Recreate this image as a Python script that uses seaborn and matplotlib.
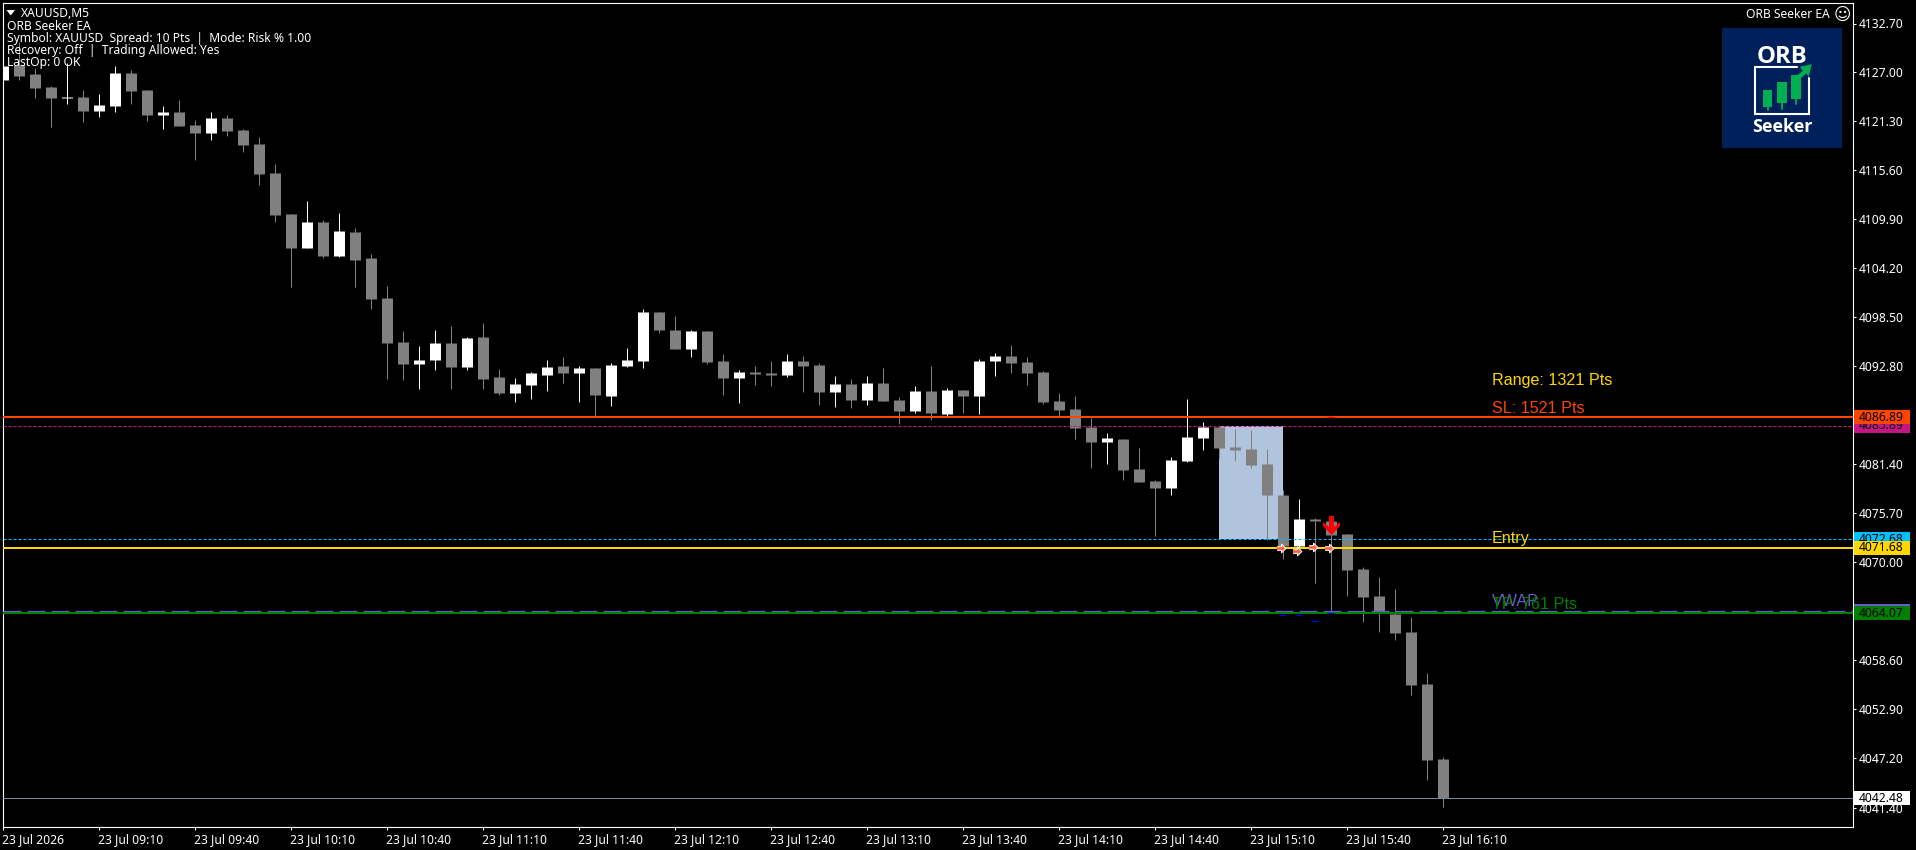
import pandas as pd
import matplotlib
matplotlib.use('Agg')
import matplotlib.pyplot as plt
import matplotlib.transforms as mtrans
from matplotlib.patches import Rectangle, Polygon
import seaborn as sns

W, H = 1916, 850

# candles, one value per 5 minute bar
opens = [4126.13, 4127.87, 4126.83, 4125.31, 4124.03, 4124.15, 4122.52, 4123.10, 4126.94, 4124.96,
         4122.05, 4122.40, 4120.89, 4119.96, 4121.70, 4120.31, 4118.68, 4115.30, 4110.53, 4106.57,
         4109.60, 4105.64, 4108.44, 4105.40, 4100.74, 4095.62, 4093.06, 4093.53, 4095.51, 4092.71,
         4096.20, 4091.55, 4089.69, 4090.62, 4091.78, 4092.83, 4092.01, 4092.60, 4089.33, 4092.83,
         4093.41, 4099.11, 4097.02, 4094.81, 4096.90, 4093.41, 4091.43, 4092.13, 4092.01, 4091.78,
         4093.41, 4092.94, 4089.80, 4090.73, 4088.87, 4090.85, 4088.87, 4087.59, 4089.92, 4087.24,
         4090.03, 4089.34, 4093.41, 4093.99, 4093.29, 4092.13, 4088.75, 4087.82, 4085.73, 4083.98,
         4084.33, 4080.84, 4079.44, 4078.63, 4081.77, 4084.45, 4085.73, 4083.40, 4083.17, 4081.42,
         4077.81, 4071.88, 4075.02, 4074.79, 4073.27, 4069.20, 4066.06, 4064.00, 4061.86, 4055.81,
         4047.08]
highs = [4129.20, 4130.59, 4127.49, 4125.43, 4128.07, 4124.96, 4124.50, 4127.76, 4127.29, 4124.96,
         4123.10, 4123.80, 4121.47, 4122.40, 4122.05, 4120.42, 4119.49, 4116.35, 4110.53, 4112.04,
         4109.83, 4110.65, 4108.90, 4105.86, 4102.14, 4096.90, 4095.16, 4097.02, 4097.48, 4096.20,
         4097.83, 4092.48, 4091.43, 4092.13, 4093.53, 4093.88, 4092.83, 4092.60, 4093.18, 4094.92,
         4099.46, 4099.11, 4098.65, 4097.02, 4096.90, 4094.22, 4092.36, 4092.83, 4093.41, 4094.22,
         4093.99, 4093.18, 4091.66, 4091.31, 4091.66, 4092.59, 4089.22, 4090.50, 4092.83, 4090.27,
         4090.03, 4093.64, 4094.34, 4095.27, 4093.88, 4092.25, 4089.69, 4089.34, 4086.78, 4085.03,
         4084.33, 4083.28, 4079.56, 4082.24, 4088.99, 4086.31, 4085.96, 4085.50, 4085.38, 4083.17,
         4078.40, 4077.35, 4075.14, 4075.00, 4073.27, 4069.43, 4068.27, 4066.87, 4063.60, 4057.09,
         4047.31]
lows = [4124.65, 4126.13, 4124.03, 4120.66, 4123.33, 4121.24, 4121.82, 4122.40, 4123.33, 4121.36,
        4120.42, 4120.77, 4116.82, 4119.14, 4119.61, 4117.75, 4113.91, 4109.60, 4102.03, 4106.57,
        4105.41, 4105.53, 4102.03, 4099.46, 4091.31, 4091.20, 4090.15, 4092.36, 4090.15, 4092.36,
        4090.15, 4089.45, 4088.64, 4088.99, 4089.92, 4090.85, 4088.64, 4086.90, 4088.17, 4092.71,
        4092.59, 4096.67, 4094.81, 4093.88, 4093.06, 4089.45, 4088.52, 4090.62, 4090.50, 4091.55,
        4089.80, 4088.29, 4088.06, 4087.94, 4088.29, 4088.75, 4086.08, 4087.36, 4086.54, 4087.01,
        4087.36, 4087.24, 4091.66, 4092.01, 4090.62, 4088.40, 4086.89, 4084.33, 4080.95, 4081.42,
        4079.56, 4079.33, 4073.04, 4077.81, 4081.66, 4083.05, 4082.12, 4081.77, 4080.96, 4072.58,
        4070.36, 4071.70, 4067.57, 4064.04, 4066.06, 4063.03, 4061.87, 4060.93, 4054.53, 4044.63,
        4041.49]
closes = [4127.80, 4126.59, 4125.20, 4124.03, 4124.15, 4122.52, 4123.22, 4126.94, 4124.85, 4122.05,
          4122.40, 4120.77, 4119.96, 4121.70, 4120.19, 4118.56, 4115.19, 4110.41, 4106.57, 4109.60,
          4105.64, 4108.55, 4105.18, 4100.63, 4095.51, 4093.06, 4093.53, 4095.51, 4092.71, 4096.09,
          4091.31, 4089.69, 4090.73, 4092.01, 4092.71, 4092.01, 4092.60, 4089.45, 4092.94, 4093.53,
          4099.11, 4097.02, 4094.81, 4096.90, 4093.29, 4091.43, 4092.13, 4091.90, 4091.78, 4093.41,
          4092.83, 4089.80, 4090.73, 4088.87, 4090.85, 4088.75, 4087.59, 4089.92, 4087.36, 4090.03,
          4089.34, 4093.41, 4093.99, 4093.18, 4092.01, 4088.64, 4087.71, 4085.61, 4083.98, 4084.45,
          4080.72, 4079.33, 4078.63, 4081.89, 4084.57, 4085.73, 4083.28, 4083.05, 4081.31, 4077.81,
          4071.88, 4075.02, 4074.79, 4073.16, 4069.08, 4065.94, 4064.11, 4061.74, 4055.69, 4046.96,
          4042.50]

price_ticks = [4132.70, 4127.00, 4121.30, 4115.60, 4109.90, 4104.20, 4098.50, 4092.80, 4087.10,
               4081.40, 4075.70, 4070.00, 4064.30, 4058.60, 4052.90, 4047.20, 4041.40]
time_labels = ['23 Jul 2026', '23 Jul 09:10', '23 Jul 09:40', '23 Jul 10:10', '23 Jul 10:40', '23 Jul 11:10',
               '23 Jul 11:40', '23 Jul 12:10', '23 Jul 12:40', '23 Jul 13:10', '23 Jul 13:40', '23 Jul 14:10',
               '23 Jul 14:40', '23 Jul 15:10', '23 Jul 15:40', '23 Jul 16:10']

sl_level = 4086.89
sl_pending = 4085.89
entry_pending = 4072.68
entry_level = 4071.68
vwap_level = 4064.30
tp_level = 4064.07
last_price = 4042.48

# opening range box
range_bars = [76, 80]
range_prices = [4072.68, 4085.89]

trade_bars = [80, 81, 82, 83]
trade_prices = [4071.60, 4071.30, 4071.70, 4071.60]
blue_marks = [4063.81, 4063.81, 4063.11, 4064.04]
sell_bar = 83
sell_price = 4074.27

header = ['ORB Seeker EA',
          'Symbol: XAUUSD  Spread: 10 Pts  |  Mode: Risk % 1.00',
          'Recovery: Off  |  Trading Allowed: Yes',
          'LastOp: 0 OK']

sns.set_theme(style='dark', rc={'figure.facecolor': 'black', 'axes.facecolor': 'black',
                                'axes.edgecolor': 'white', 'savefig.facecolor': 'black'})
plt.rcParams['font.family'] = ['Noto Sans', 'DejaVu Sans']
FS = 8.7
X0 = 2.5  # px position of bar 0


def px(x, y):
    return x / W, 1 - y / H


df = pd.DataFrame({'bar': range(len(opens)), 'open': opens, 'high': highs, 'low': lows, 'close': closes})
df['kind'] = ['up' if c >= o else 'down' for o, c in zip(opens, closes)]
colours = {'up': 'white', 'down': '#808080'}
wicks = df.melt(id_vars=['bar', 'kind'], value_vars=['low', 'high'], value_name='price')
bodies = df.melt(id_vars=['bar', 'kind'], value_vars=['open', 'close'], value_name='price')

fig = plt.figure(figsize=(W / 100, H / 100), dpi=100)
left, right, top, bottom = 2.5, 1852.5, 2.5, 826.5
ax = fig.add_axes([left / W, 1 - bottom / H, (right - left) / W, (bottom - top) / H])

# 16 px per bar, 8.59 px per price unit
ax.set_xlim((left - X0) / 16, (right - X0) / 16)
ax.set_ylim(4132.70 - (bottom - 23.5) / 8.59, 4132.70 + (23.5 - top) / 8.59)

ax.add_patch(Rectangle((range_bars[0], range_prices[0]), range_bars[1] - range_bars[0],
                       range_prices[1] - range_prices[0], color='#B0C4DE', lw=0, zorder=2.7))

sns.lineplot(data=wicks, x='bar', y='price', hue='kind', units='bar', estimator=None, sort=False,
             palette=colours, lw=0.72, ax=ax, legend=False, zorder=3, solid_capstyle='butt')
sns.lineplot(data=bodies, x='bar', y='price', hue='kind', units='bar', estimator=None, sort=False,
             palette=colours, lw=7.92, ax=ax, legend=False, zorder=3.1, solid_capstyle='butt')

ax.axhline(sl_pending, color='#C71585', lw=0.72, ls=(0, (3, 2)), zorder=4)
ax.axhline(sl_level, color='#FF4500', lw=1.44, zorder=4.1)
ax.axhline(entry_pending, color='#00BFFF', lw=0.72, ls=(0, (3, 2)), zorder=4)
ax.axhline(entry_level, color='#FFD700', lw=1.44, zorder=4.1)
ax.axhline(vwap_level, color='#6A5ACD', lw=0.9, ls=(0, (14.4, 4.8)), zorder=4)
ax.axhline(tp_level, color='#008000', lw=1.44, zorder=4.1)
ax.axhline(last_price, color='#778899', lw=0.72, zorder=4)

for b, p in zip(trade_bars, blue_marks):
    ax.hlines(p, b - 0.22, b + 0.22, color='#0000FF', lw=0.9, zorder=4.2)
ax.hlines(sl_level + 0.04, sell_bar - 0.22, sell_bar + 0.22, color='#FF0000', lw=0.9, zorder=4.2)

right_arrow = [(-1, -0.42), (0, -0.42), (0, -1), (1, 0), (0, 1), (0, 0.42), (-1, 0.42)]
sns.scatterplot(x=[b - 0.1 for b in trade_bars], y=trade_prices, marker=right_arrow, s=40, color='#FF6347',
                edgecolor='white', linewidth=0.7, ax=ax, zorder=5, legend=False)
down_arrow = [(-0.26, 1), (0.26, 1), (0.26, -0.15), (0.89, 0.35), (0.89, -0.05), (0, -1),
              (-0.89, -0.05), (-0.89, 0.35), (-0.26, -0.15)]
sns.scatterplot(x=[sell_bar], y=[sell_price], marker=down_arrow, s=187, color='#FF0000',
                linewidth=0, ax=ax, zorder=5.1, legend=False)

# axes and ticks
for s in ax.spines.values():
    s.set_color('white')
    s.set_linewidth(0.8)
ax.yaxis.tick_right()
ax.set_yticks(price_ticks)
ax.set_yticklabels(['%.2f' % v for v in price_ticks])
ax.set_xticks([i * 6 for i in range(len(time_labels))])
ax.set_xticklabels(time_labels, ha='left')
ax.tick_params(axis='y', colors='white', length=2.2, width=0.72, pad=2.6, labelsize=FS, right=True)
ax.tick_params(axis='x', colors='white', length=2.2, width=0.72, pad=2.6, labelsize=FS, bottom=True)
ax.grid(False)
ax.set_xlabel('')
ax.set_ylabel('')

# price tags on the scale
tag_trans = mtrans.blended_transform_factory(fig.transFigure, ax.transData)
tags = [(sl_pending, '#C71585', 4.5), (sl_level, '#FF4500', 4.6), (entry_pending, '#00BFFF', 4.5),
        (entry_level, '#FFD700', 4.6), (vwap_level, '#6A5ACD', 4.5), (tp_level, '#008000', 4.6),
        (last_price, 'white', 4.5)]
tag_h = 14 / 8.59
for p, col, z in tags:
    ax.add_patch(Rectangle((1854 / W, p - tag_h / 2), 56 / W, tag_h, transform=tag_trans, color=col, lw=0,
                           clip_on=False, zorder=z))
    ax.text(1859 / W, p, '%.2f' % p, transform=tag_trans, color='black', fontsize=FS, va='center',
            clip_on=False, zorder=z + 0.01)

# header block, drawn over the candles
fig.text(*px(21, 17), 'XAUUSD,M5', color='white', fontsize=FS, va='baseline', zorder=10)
fig.add_artist(Polygon([px(6.5, 10), px(15, 10), px(10.7, 15.5)], closed=True, color='white', lw=0,
                       transform=fig.transFigure))
for i, line in enumerate(header):
    fig.text(*px(7, 30 + 12 * i), line, color='white', fontsize=FS, va='baseline', zorder=10)

fig.text(*px(1746, 18), 'ORB Seeker EA', color='white', fontsize=FS, va='baseline', zorder=10)
fig.text(*px(1834, 19.5), '\u263a', color='white', fontsize=12, va='baseline', family='DejaVu Sans', zorder=10)

# level captions
FS2 = 11.6
fig.text(*px(1492, 385), 'Range: 1321 Pts', color='#FFD700', fontsize=FS2, family='Liberation Sans', va='baseline')
fig.text(*px(1492, 412.7), 'SL: 1521 Pts', color='#FF4500', fontsize=FS2, family='Liberation Sans', va='baseline')
fig.text(*px(1492, 542.7), 'Entry', color='#FFD700', fontsize=FS2, family='Liberation Sans', va='baseline')
fig.text(*px(1492, 606), 'VWAP', color='#6A5ACD', fontsize=FS2, family='Liberation Sans', va='baseline')
fig.text(*px(1492, 609.3), 'TP: 761 Pts', color='#008000', fontsize=FS2, family='Liberation Sans', va='baseline')

# logo, coordinates in px from its top left corner
logo = fig.add_axes([1722 / W, 1 - 148 / H, 120 / W, 120 / H], zorder=20)
logo.set_xlim(0, 120)
logo.set_ylim(120, 0)
logo.set_facecolor('#00205B')
logo.set_xticks([])
logo.set_yticks([])
for s in logo.spines.values():
    s.set_visible(False)
logo.plot([74.7, 33, 33, 87, 87], [38.7, 38.7, 86.3, 86.3, 50.3], color='white', lw=1.5, solid_joinstyle='miter')
for x0, x1, y0, y1, y2 in [(41, 50.3, 61.7, 78.7, 82), (55.3, 65, 54, 75, 81), (69.3, 79, 46.7, 70.7, 76)]:
    logo.add_patch(Rectangle((x0, y0), x1 - x0, y1 - y0, color='#00B050', lw=0))
    logo.plot([(x0 + x1) / 2] * 2, [y1, y2], color='#00B050', lw=1.3)
logo.add_patch(Polygon([(74.7, 48), (80.7, 42.7), (78, 38.7), (89.7, 36.3), (86.7, 48.7), (84, 45.3), (79.7, 49.7)],
                       closed=True, color='#00B050', lw=0))
logo.text(59.7, 34.7, 'ORB', color='white', fontsize=17.2, fontweight='bold', ha='center', va='baseline', family='Open Sans')
logo.text(60, 103.7, 'Seeker', color='white', fontsize=13, fontweight='bold', ha='center', va='baseline', family='Open Sans')

fig.savefig('out.png', dpi=100, facecolor='black')
plt.close(fig)
